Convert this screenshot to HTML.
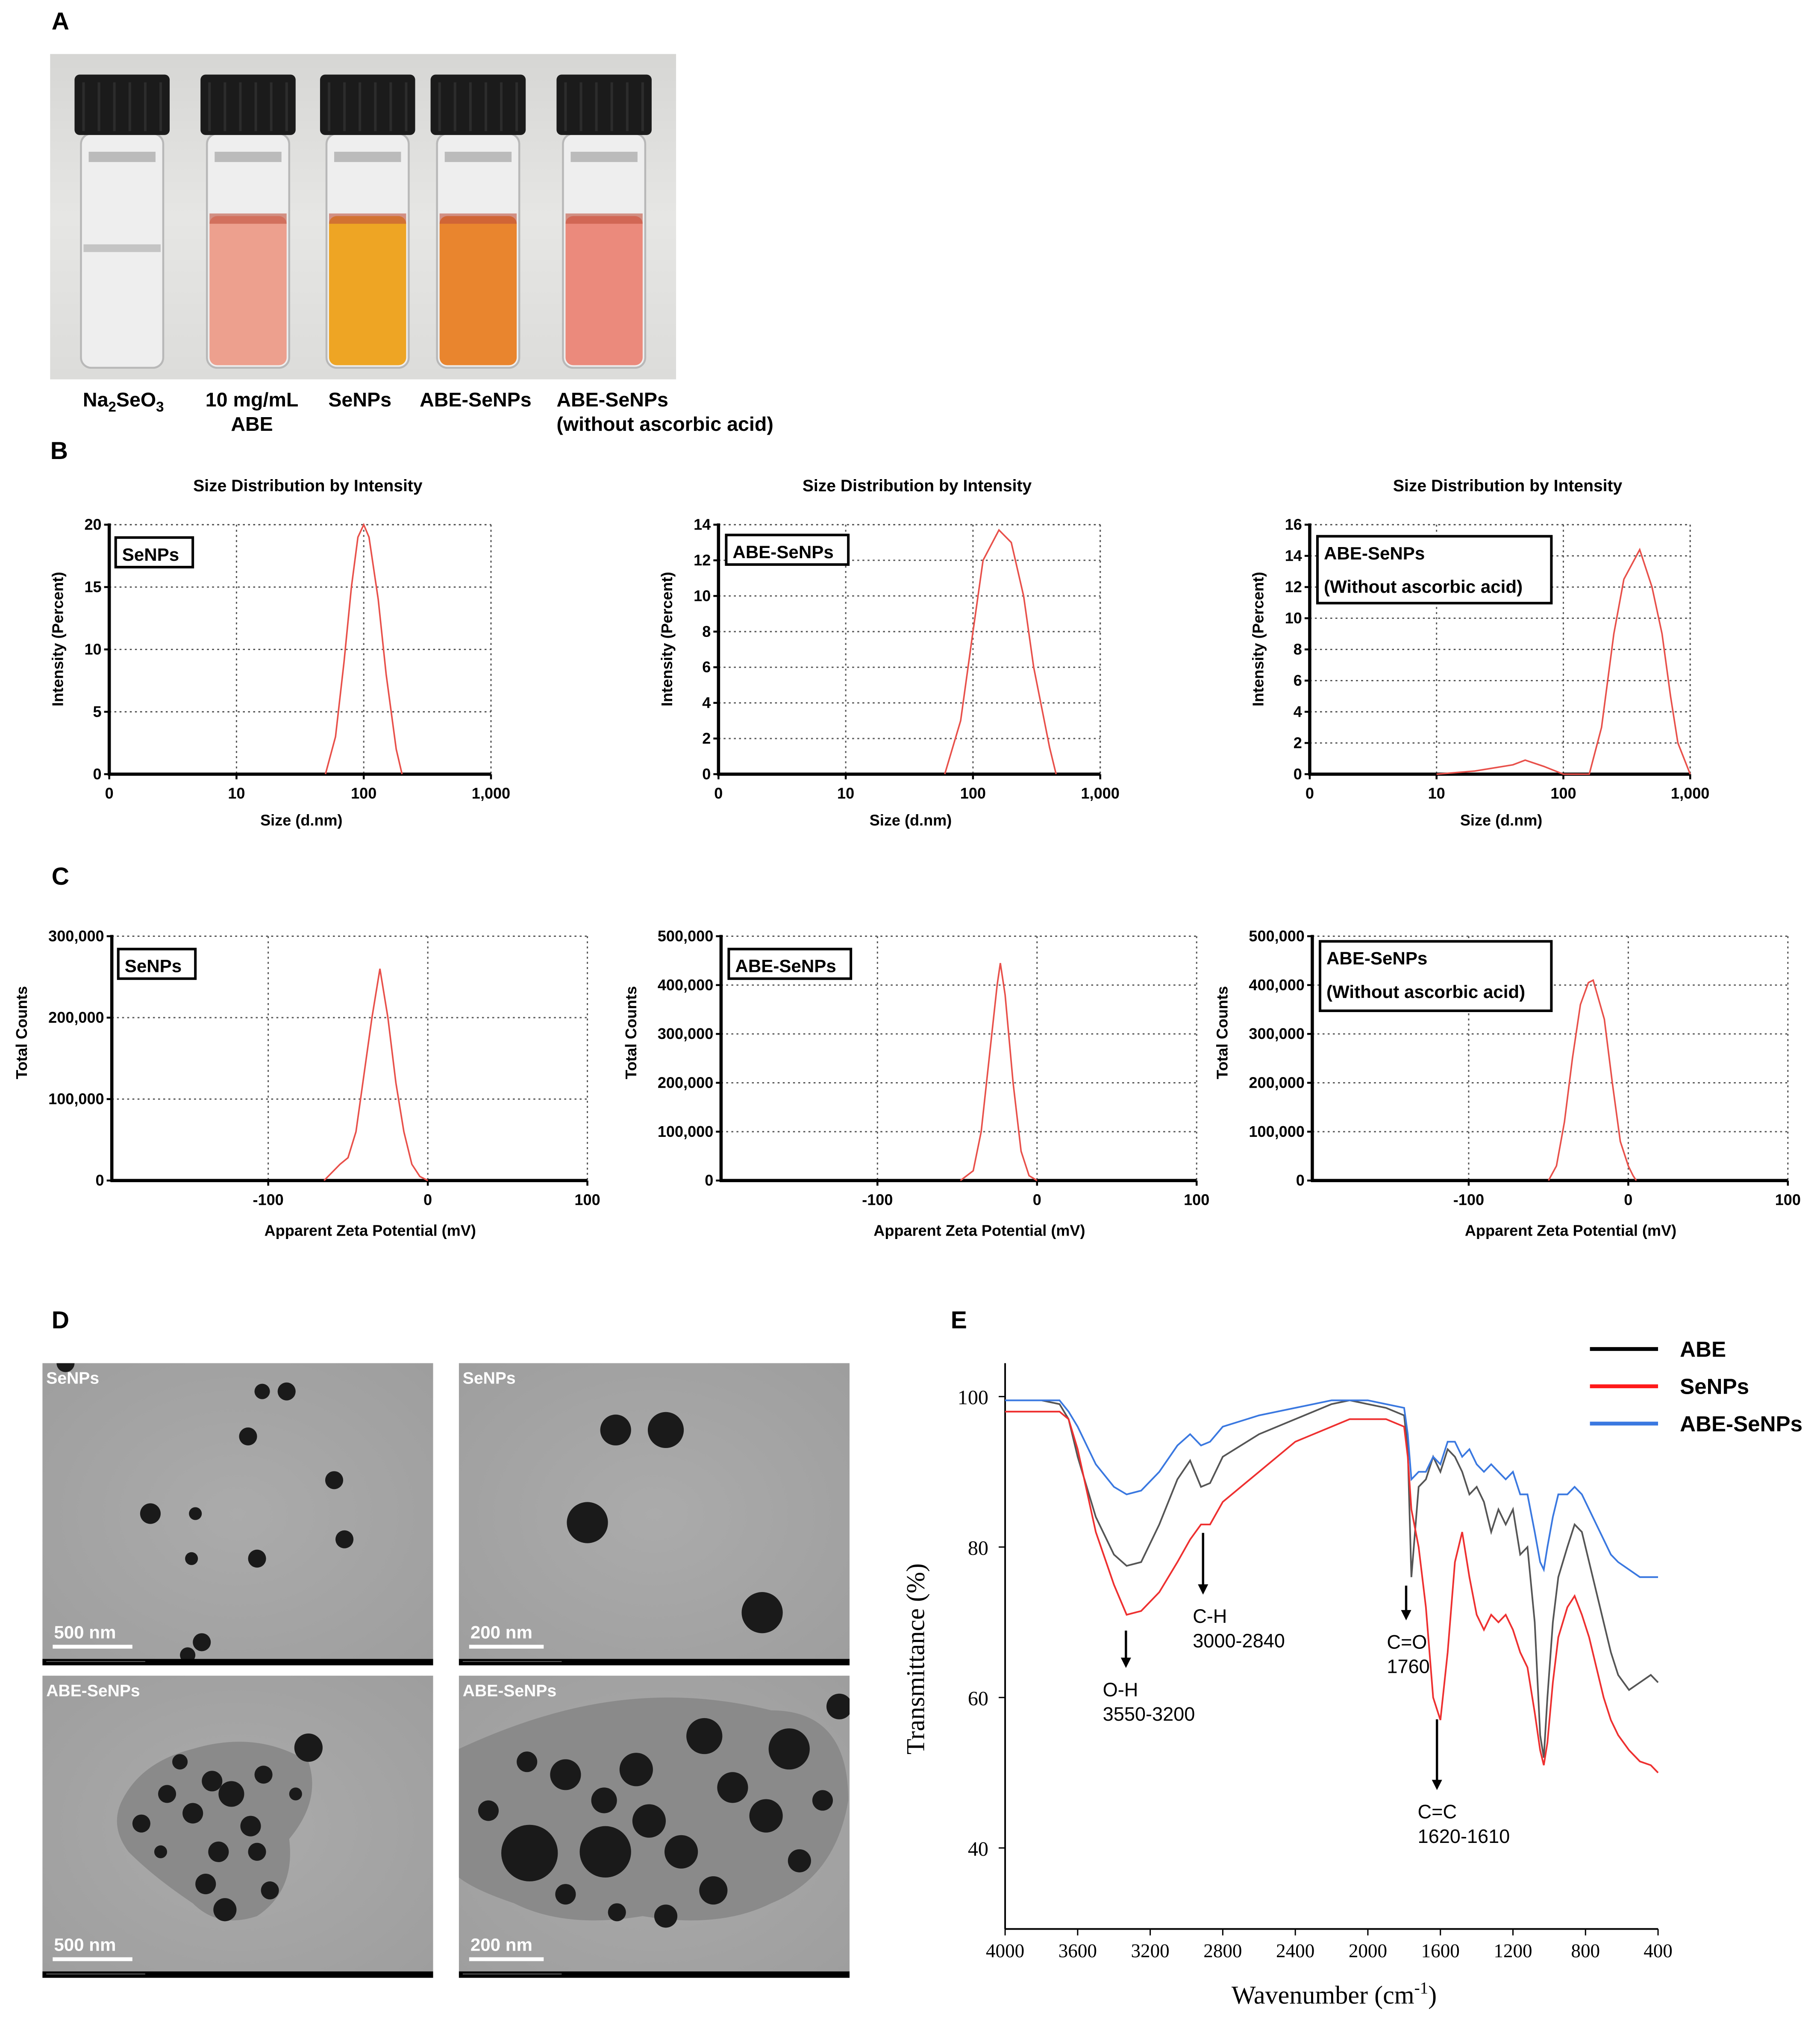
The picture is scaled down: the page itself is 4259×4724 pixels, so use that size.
<!DOCTYPE html>
<html><head><meta charset="utf-8">
<style>
html,body{margin:0;padding:0;background:#fff;}
svg{display:block;}
text{font-family:"Liberation Sans",Arial,sans-serif;}
.b{font-weight:bold;}
.serif{font-family:"Liberation Serif","Times New Roman",serif;}
</style></head>
<body>
<svg id="fig" xmlns="http://www.w3.org/2000/svg" width="4259" height="4724" viewBox="0 0 1416 1570" preserveAspectRatio="none">
<defs>
<linearGradient id="photoBg" x1="0" y1="0" x2="0" y2="1">
<stop offset="0" stop-color="#d6d6d4"/><stop offset="0.5" stop-color="#e6e6e4"/><stop offset="1" stop-color="#dcdcda"/>
</linearGradient>
<radialGradient id="temBg" cx="0.5" cy="0.5" r="0.7">
<stop offset="0" stop-color="#ababab"/><stop offset="1" stop-color="#9e9e9e"/>
</radialGradient>
</defs>
<g id="root"></g>
</svg>
<script>
// ---------- DATA ----------
const dls1Size=[50,60,70,80,90,100,110,130,150,180,200];
const dls1Val=[0,3,9,15,19,20,19,14,8,2,0];
const dls2Size=[60,80,100,120,160,200,250,300,400,450];
const dls2Val=[0,3,8,12,13.7,13,10,6,1.5,0];
const dls3Size=[10,20,40,50,70,100,160,200,250,300,400,500,600,700,800,1000];
const dls3Val=[0,0.2,0.6,0.9,0.5,0,0,3,9,12.5,14.4,12,9,5,2,0];

const zeta1X=[-65,-55,-50,-45,-40,-35,-30,-25,-20,-15,-10,-5,0];
const zeta1Y=[0,20000,28000,60000,130000,200000,260000,200000,120000,60000,20000,5000,0];
const zeta2X=[-48,-40,-35,-30,-25,-23,-20,-15,-10,-5,0];
const zeta2Y=[0,20000,100000,250000,400000,445000,380000,200000,60000,10000,0];
const zeta3X=[-50,-45,-40,-35,-30,-25,-22,-15,-10,-5,0,3,5];
const zeta3Y=[0,30000,120000,250000,360000,405000,410000,330000,200000,80000,30000,10000,0];

const ftirWn=[4000,3800,3700,3650,3600,3500,3400,3330,3250,3150,3050,2980,2920,2870,2800,2600,2400,2200,2100,2000,1900,1800,1780,1760,1720,1680,1640,1600,1560,1520,1480,1440,1400,1360,1320,1280,1240,1200,1160,1120,1080,1050,1030,1010,980,950,900,860,820,780,740,700,660,620,560,500,440,400];
const ftirABE=[99.5,99.5,99,97,92,84,79,77.5,78,83,89,91.5,88,88.5,92,95,97,99,99.5,99,98.5,97.5,93,76,88,89,92,90,93,92,90,87,88,86,82,85,83,85,79,80,70,55,52,60,70,76,80,83,82,78,74,70,66,63,61,62,63,62];
const ftirSe=[98,98,98,97,93,82,75,71,71.5,74,78,81,83,83,86,90,94,96,97,97,97,96,92,85,80,72,60,57,66,78,82,76,71,69,71,70,71,69,66,64,58,53,51,54,62,68,72,73.5,71,68,64,60,57,55,53,51.5,51,50];
const ftirAS=[99.5,99.5,99.5,98,96,91,88,87,87.5,90,93.5,95,93.5,94,96,97.5,98.5,99.5,99.5,99.5,99,98.5,95,89,90,90,92,91,94,94,92,93,91,90,91,90,89,90,87,87,82,78,77,80,84,87,87,88,87,85,83,81,79,78,77,76,76,76];
const ftirXTicks=[4000,3600,3200,2800,2400,2000,1600,1200,800,400];
const ftirYTicks=[40,60,80,100];

// ---------- HELPERS ----------
const NS="http://www.w3.org/2000/svg";
const root=document.getElementById('root');
function mk(tag,attrs,parent,txt){const e=document.createElementNS(NS,tag);for(const k in attrs)e.setAttribute(k,attrs[k]);if(txt!==undefined)e.textContent=txt;(parent||root).appendChild(e);return e;}
function fmt(n){return n.toLocaleString('en-US');}

// ---------- PANEL LETTERS ----------
[['A',47,23],['B',46,357],['C',47,688],['D',47,1033],['E',746,1033]].forEach(p=>{
 const t=mk('text',{x:p[1],y:p[2],'font-size':19,'class':'b','text-anchor':'middle'},root,p[0]);
 
 
});

// ---------- PANEL A PHOTO ----------
const gA=mk('g',{});


mk('rect',{x:39,y:42,width:487,height:253,fill:'url(#photoBg)'},gA);
const vials=[[95,'none',null],[193,'#eda08e',168],[286,'#eea524',168],[372,'#e9852e',168],[470,'#eb8a7c',168]];
vials.forEach((v,i)=>{
 const cx=v[0],w=64;
 const g=mk('g',{},gA);
 
 
 mk('rect',{x:cx-w/2,y:104,width:w,height:182,rx:8,fill:'#eeeeee',stroke:'#b8b8b8','stroke-width':1.5},g);
 if(v[2]){mk('rect',{x:cx-w/2+2,y:v[2],width:w-4,height:116,rx:6,fill:v[1]},g);
  mk('rect',{x:cx-w/2+2,y:v[2]-2,width:w-4,height:8,fill:'#c0503c',opacity:0.6},g);}
 else mk('rect',{x:cx-w/2+2,y:190,width:w-4,height:6,fill:'#c4c4c4'},g);
 mk('rect',{x:cx-w/2+6,y:118,width:w-12,height:8,fill:'#9a9a9a',opacity:0.6},g);
 mk('rect',{x:cx-37,y:58,width:74,height:47,rx:4,fill:'#1b1b1b'},g);
 for(let k=0;k<6;k++)mk('line',{x1:cx-30+k*12,y1:64,x2:cx-30+k*12,y2:102,stroke:'#2c2c2c','stroke-width':2},g);
});
const labA=[[96,316,'Na'],[196,316,'10 mg/mL'],[196,335,'ABE'],[280,316,'SeNPs'],[370,316,'ABE-SeNPs'],[433,316,'ABE-SeNPs'],[433,335,'(without ascorbic acid)']];
labA.forEach((l,i)=>{
 const t=mk('text',{x:l[0],y:l[1],'font-size':15.5,'class':'b','text-anchor':l[0]===433?'start':'middle'},root);
 
 
 if(i===0){t.innerHTML='Na<tspan font-size="11" dy="4">2</tspan><tspan dy="-4">SeO</tspan><tspan font-size="11" dy="4">3</tspan>';}
 else t.textContent=l[2];
});

// ---------- GENERIC PLOT ----------
function grid(g,x0,y0,x1,y1,xs,ys){
 xs.forEach(x=>mk('line',{x1:x,y1:y0,x2:x,y2:y1,stroke:'#555','stroke-width':1,'stroke-dasharray':'1.5,2.5'},g));
 ys.forEach(y=>mk('line',{x1:x0,y1:y,x2:x1,y2:y,stroke:'#555','stroke-width':1,'stroke-dasharray':'1.5,2.5'},g));
 mk('line',{x1:x0,y1:y0,x2:x1,y2:y0,stroke:'#555','stroke-width':1,'stroke-dasharray':'1.5,2.5'},g);
 mk('line',{x1:x1,y1:y0,x2:x1,y2:y1,stroke:'#555','stroke-width':1,'stroke-dasharray':'1.5,2.5'},g);
 mk('line',{x1:x0,y1:y0-1,x2:x0,y2:y1+1,stroke:'#000','stroke-width':2.5},g);
 mk('line',{x1:x0-1,y1:y1,x2:x1,y2:y1,stroke:'#000','stroke-width':2.5},g);
}
function boxLabel(g,x,y,w,h,lines,name){
 const b=mk('g',{},g);
 
 
 mk('rect',{x:x,y:y,width:w,height:h,fill:'#fff',stroke:'#000','stroke-width':2},b);
 lines.forEach((s,i)=>mk('text',{x:x+5,y:y+18+i*26,'font-size':14,'class':'b'},b,s));
}

// ---------- PANEL B: DLS ----------
const dlsDefs=[
 {x0:85,x1:382,ymax:20,step:5,size:dls1Size,val:dls1Val,box:[90,418,60,23,['SeNPs']]},
 {x0:559,x1:856,ymax:14,step:2,size:dls2Size,val:dls2Val,box:[565,416,95,23,['ABE-SeNPs']]},
 {x0:1019,x1:1315,ymax:16,step:2,size:dls3Size,val:dls3Val,box:[1025,417,182,52,['ABE-SeNPs','(Without ascorbic acid)']]}
];
dlsDefs.forEach((d,pi)=>{
 const g=mk('g',{});
 
 
 const y0=408,y1=602;
 const X=v=>d.x0+Math.log10(v)/3*(d.x1-d.x0);
 const Y=v=>y1-v/d.ymax*(y1-y0);
 const xt=[1,10,100,1000],xl=['0','10','100','1,000'];
 const yt=[];for(let v=0;v<=d.ymax;v+=d.step)yt.push(v);
 grid(g,d.x0,y0,d.x1,y1,xt.map(X).slice(1),yt.map(Y).slice(1));
 xt.forEach((v,i)=>{mk('line',{x1:X(v),y1:y1,x2:X(v),y2:y1+4,stroke:'#000','stroke-width':1.5},g);
  mk('text',{x:X(v),y:y1+19,'font-size':12,'class':'b','text-anchor':'middle'},g,xl[i]);});
 yt.forEach(v=>{mk('line',{x1:d.x0-4,y1:Y(v),x2:d.x0,y2:Y(v),stroke:'#000','stroke-width':1.5},g);
  mk('text',{x:d.x0-6,y:Y(v)+4,'font-size':12,'class':'b','text-anchor':'end'},g,String(v));});
 const t=mk('text',{x:(d.x0+d.x1)/2+6,y:382,'font-size':13,'class':'b','text-anchor':'middle'},g,'Size Distribution by Intensity');
 
 
 const xa=mk('text',{x:(d.x0+d.x1)/2+1,y:642,'font-size':12,'class':'b','text-anchor':'middle'},g,'Size (d.nm)');
 
 
 const ya=mk('text',{x:0,y:0,'font-size':12,'class':'b','text-anchor':'middle',transform:`translate(${d.x0-36},${(y0+y1)/2-8}) rotate(-90)`},g,'Intensity (Percent)');
 
 
 const p=mk('polyline',{points:d.size.map((s,i)=>X(s)+','+Y(d.val[i])).join(' '),fill:'none',stroke:'#e8504a','stroke-width':1.2},g);
 
 
 boxLabel(g,...d.box,'dls-sample-label-'+(pi+1));
});

// ---------- PANEL C: ZETA ----------
const zDefs=[
 {x0:87,ymax:300000,step:100000,xs:zeta1X,ys:zeta1Y,box:[92,738,60,23,['SeNPs']]},
 {x0:561,ymax:500000,step:100000,xs:zeta2X,ys:zeta2Y,box:[567,738,95,23,['ABE-SeNPs']]},
 {x0:1021,ymax:500000,step:100000,xs:zeta3X,ys:zeta3Y,box:[1027,732,180,54,['ABE-SeNPs','(Without ascorbic acid)']]}
];
zDefs.forEach((d,pi)=>{
 const g=mk('g',{});
 
 
 const y0=728,y1=918,x1=d.x0+370;
 const X=v=>d.x0+(v+198)/298*370;
 const Y=v=>y1-v/d.ymax*(y1-y0);
 const xt=[-100,0,100];
 const yt=[];for(let v=0;v<=d.ymax;v+=d.step)yt.push(v);
 grid(g,d.x0,y0,x1,y1,xt.slice(0,2).map(X),yt.map(Y).slice(1));
 xt.forEach(v=>{mk('line',{x1:X(v),y1:y1,x2:X(v),y2:y1+4,stroke:'#000','stroke-width':1.5},g);
  mk('text',{x:X(v),y:y1+19,'font-size':12,'class':'b','text-anchor':'middle'},g,String(v));});
 yt.forEach(v=>{mk('line',{x1:d.x0-4,y1:Y(v),x2:d.x0,y2:Y(v),stroke:'#000','stroke-width':1.5},g);
  mk('text',{x:d.x0-6,y:Y(v)+4,'font-size':12,'class':'b','text-anchor':'end'},g,fmt(v));});
 const xa=mk('text',{x:d.x0+201,y:961,'font-size':12,'class':'b','text-anchor':'middle'},g,'Apparent Zeta Potential (mV)');
 
 
 const ya=mk('text',{x:0,y:0,'font-size':12,'class':'b','text-anchor':'middle',transform:`translate(${d.x0-66},${(y0+y1)/2-20}) rotate(-90)`},g,'Total Counts');
 
 
 const p=mk('polyline',{points:d.xs.map((s,i)=>X(s)+','+Y(d.ys[i])).join(' '),fill:'none',stroke:'#e8504a','stroke-width':1.2},g);
 
 
 boxLabel(g,...d.box,'zeta-sample-label-'+(pi+1));
});

// ---------- PANEL D: TEM ----------
const tem=[
 {x:33,y:1060,lab:'SeNPs',bar:'500 nm',parts:[[51,1060,7],[204,1082,6],[223,1082,7],[193,1117,7],[260,1151,7],[117,1177,8],[152,1177,5],[268,1197,7],[149,1212,5],[200,1212,7],[157,1277,7],[146,1287,6]]},
 {x:357,y:1060,lab:'SeNPs',bar:'200 nm',parts:[[479,1112,12],[518,1112,14],[457,1184,16],[593,1254,16]]},
 {x:33,y:1303,lab:'ABE-SeNPs',bar:'500 nm',cloud:'M95,1400 Q110,1370 150,1360 Q200,1345 240,1370 Q250,1400 225,1430 Q230,1470 200,1490 Q170,1500 150,1480 Q120,1460 100,1440 Q85,1420 95,1400Z',parts:[[240,1359,11],[140,1370,6],[165,1385,8],[180,1395,10],[205,1380,7],[130,1395,7],[150,1410,8],[195,1420,8],[110,1418,7],[170,1440,8],[200,1440,7],[160,1465,8],[210,1470,7],[175,1485,9],[230,1395,5],[125,1440,5]]},
 {x:357,y:1303,lab:'ABE-SeNPs',bar:'200 nm',cloud:'M357,1360 Q400,1340 440,1330 Q520,1310 600,1330 Q660,1330 660,1400 Q650,1460 600,1480 Q560,1500 500,1490 Q440,1500 400,1480 Q370,1470 357,1460Z',parts:[[412,1441,22],[471,1440,20],[548,1350,14],[614,1360,16],[653,1327,10],[440,1380,12],[495,1376,13],[505,1416,13],[570,1390,12],[530,1440,13],[596,1412,13],[555,1470,11],[622,1447,9],[380,1408,8],[410,1370,8],[470,1400,10],[440,1473,8],[480,1487,7],[518,1490,9],[640,1400,8]]}
];
tem.forEach((t,i)=>{
 const g=mk('g',{});
 
 
 mk('clipPath',{id:'tc'+i},g).appendChild((()=>{const r=document.createElementNS(NS,'rect');r.setAttribute('x',t.x);r.setAttribute('y',t.y);r.setAttribute('width',304);r.setAttribute('height',235);return r;})());
 const inner=mk('g',{'clip-path':'url(#tc'+i+')'},g);
 mk('rect',{x:t.x,y:t.y,width:304,height:235,fill:'url(#temBg)'},inner);
 if(t.cloud)mk('path',{d:t.cloud,fill:'#8a8a8a'},inner);
 t.parts.forEach(p=>mk('circle',{cx:p[0],cy:p[1],r:p[2],fill:'#1a1a1a'},inner));
 mk('rect',{x:t.x,y:t.y+230,width:304,height:5,fill:'#000'},inner);
 mk('line',{x1:t.x+3,y1:t.y+232,x2:t.x+80,y2:t.y+232,stroke:'#777','stroke-width':0.6},inner);
 mk('text',{x:t.x+3,y:t.y+16,'font-size':13,'class':'b',fill:'#fff'},g,t.lab);
 mk('text',{x:t.x+9,y:t.y+214,'font-size':14,'class':'b',fill:'#fff'},g,t.bar);
 mk('rect',{x:t.x+8,y:t.y+219,width:t.bar==='500 nm'?62:58,height:3,fill:'#fff'},g);
});

// ---------- PANEL E: FTIR ----------
(function(){
 const g=mk('g',{});
 
 
 const xL=782,xR=1290,yB=1500;
 const X=w=>xL+(4000-w)/3600*(xR-xL);
 const Y=v=>1086+(100-v)*5.85;
 mk('line',{x1:xL,y1:1060,x2:xL,y2:yB,stroke:'#000','stroke-width':1.3},g);
 mk('line',{x1:xL,y1:yB,x2:xR,y2:yB,stroke:'#000','stroke-width':1.3},g);
 ftirYTicks.forEach(v=>{mk('line',{x1:xL-5,y1:Y(v),x2:xL,y2:Y(v),stroke:'#000'},g);
  mk('text',{x:xL-13,y:Y(v)+6,'font-size':16,'class':'serif','text-anchor':'end'},g,String(v));});
 ftirXTicks.forEach(v=>{mk('line',{x1:X(v),y1:yB,x2:X(v),y2:yB+5,stroke:'#000'},g);
  mk('text',{x:X(v),y:yB+22,'font-size':15,'class':'serif','text-anchor':'middle'},g,String(v));});
 const ya=mk('text',{x:0,y:0,'font-size':20,'class':'serif','text-anchor':'middle',transform:'translate(719,1290) rotate(-90)'},g,'Transmittance (%)');
 
 
 const xa=mk('text',{x:1038,y:1558,'font-size':20,'class':'serif','text-anchor':'middle'},g);
 xa.innerHTML='Wavenumber (cm<tspan font-size="13" dy="-8">-1</tspan><tspan dy="8">)</tspan>';
 
 
 const series=[['ABE',ftirABE,'#555555'],['SeNPs',ftirSe,'#ee3030'],['ABE-SeNPs',ftirAS,'#3a78e0']];
 series.forEach((s,i)=>{
  const p=mk('polyline',{points:ftirWn.map((w,j)=>X(w)+','+Y(s[1][j])).join(' '),fill:'none',stroke:s[2],'stroke-width':1.3},g);
  
  
  const lg=mk('g',{},g);
  
  
  const ly=1049+i*29;
  mk('line',{x1:1237,y1:ly,x2:1290,y2:ly,stroke:i===0?'#000':(i===1?'#ff1a1a':'#3a78e0'),'stroke-width':3},lg);
  mk('text',{x:1307,y:ly+6,'font-size':17,'class':'b'},lg,s[0]);
 });
 const ann=[[876,1268,1297,858,'O-H','3550-3200'],[936,1192,1240,928,'C-H','3000-2840'],[1094,1233,1260,1079,'C=O','1760'],[1118,1337,1392,1103,'C=C','1620-1610']];
 ann.forEach((a,i)=>{
  const ag=mk('g',{},g);
  
  
  mk('line',{x1:a[0],y1:a[1],x2:a[0],y2:a[2]-6,stroke:'#000','stroke-width':1.8},ag);
  mk('path',{d:`M${a[0]-4},${a[2]-8} L${a[0]+4},${a[2]-8} L${a[0]},${a[2]}Z`,fill:'#000'},ag);
  mk('text',{x:a[3],y:a[2]+22,'font-size':15},ag,a[4]);
  mk('text',{x:a[3],y:a[2]+41,'font-size':15},ag,a[5]);
 });
})();
</script>
</body></html>
